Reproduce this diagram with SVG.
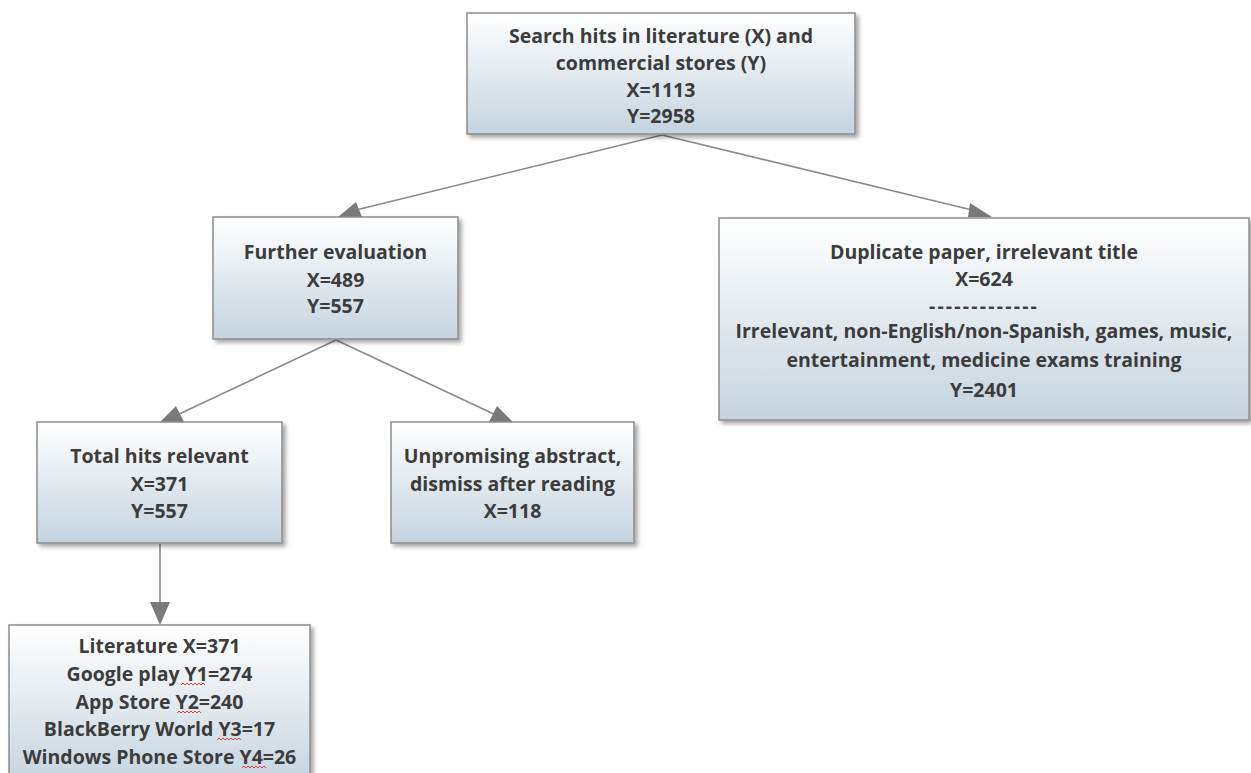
<svg xmlns="http://www.w3.org/2000/svg" width="1251" height="773" viewBox="0 0 1251 773">
<defs>
<linearGradient id="g" x1="0" y1="0" x2="0" y2="1">
<stop offset="0" stop-color="#ffffff"/>
<stop offset="1" stop-color="#c5d3de"/>
</linearGradient>
<filter id="sh" x="-5%" y="-5%" width="115%" height="120%">
<feDropShadow dx="3" dy="3" stdDeviation="2" flood-color="#000" flood-opacity="0.35"/>
</filter>
<style>
.box{fill:url(#g);stroke:#8c8c8c;stroke-width:1.5;filter:url(#sh)}
.t{font-family:"Open Sans","Noto Sans","DejaVu Sans",sans-serif;font-weight:bold;font-size:19.5px;fill:#3c3c3c;text-anchor:middle}
.c{stroke:#8a8a8a;stroke-width:1.6;fill:none}
.arr{fill:#7a7a7a}
.sq{stroke:#e04040;stroke-width:1;fill:none}
</style>
</defs>
<rect width="1251" height="773" fill="#ffffff"/>
<g id="connectors">
<line class="c" x1="662" y1="135" x2="356" y2="210"/>
<polygon class="arr" points="338,217 362,217 356,202"/>
<line class="c" x1="662" y1="135" x2="972" y2="210"/>
<polygon class="arr" points="968,217 992,217 970,203"/>
<line class="c" x1="336" y1="340" x2="175" y2="416"/>
<polygon class="arr" points="160,422 184,422 176,406"/>
<line class="c" x1="336" y1="340" x2="498" y2="416"/>
<polygon class="arr" points="489,422 513,422 497,406"/>
<line class="c" x1="160" y1="544" x2="160" y2="608"/>
<polygon class="arr" points="150,602 170,602 160,625"/>
</g>
<g id="n1">
<rect class="box" x="467" y="13" width="388" height="121"/>
<text class="t" x="661" y="43">Search hits in literature (X) and</text>
<text class="t" x="661" y="70">commercial stores (Y)</text>
<text class="t" x="661" y="97">X=1113</text>
<text class="t" x="661" y="123">Y=2958</text>
</g>
<g id="n2">
<rect class="box" x="213" y="217" width="245" height="122"/>
<text class="t" x="335.5" y="259">Further evaluation</text>
<text class="t" x="335.5" y="287">X=489</text>
<text class="t" x="335.5" y="313">Y=557</text>
</g>
<g id="n3">
<rect class="box" x="719" y="218" width="530" height="202"/>
<text class="t" x="984" y="259">Duplicate paper, irrelevant title</text>
<text class="t" x="984" y="286">X=624</text>
<text class="t" x="984" y="313" style="letter-spacing:2.2px">-------------</text>
<text class="t" x="984" y="338">Irrelevant, non-English/non-Spanish, games, music,</text>
<text class="t" x="984" y="367">entertainment, medicine exams training</text>
<text class="t" x="984" y="397">Y=2401</text>
</g>
<g id="n4">
<rect class="box" x="37" y="422" width="245" height="121"/>
<text class="t" x="159.5" y="463">Total hits relevant</text>
<text class="t" x="159.5" y="491">X=371</text>
<text class="t" x="159.5" y="518">Y=557</text>
</g>
<g id="n5">
<rect class="box" x="391" y="422" width="243" height="121"/>
<text class="t" x="512.5" y="463">Unpromising abstract,</text>
<text class="t" x="512.5" y="491">dismiss after reading</text>
<text class="t" x="512.5" y="518">X=118</text>
</g>
<g id="n6">
<rect class="box" x="9" y="625" width="301" height="160"/>
<text class="t" x="159.5" y="653">Literature X=371</text>
<text class="t" x="159.5" y="681">Google play Y1=274</text>
<text class="t" x="159.5" y="709">App Store Y2=240</text>
<text class="t" x="159.5" y="736">BlackBerry World Y3=17</text>
<text class="t" x="159.5" y="764">Windows Phone Store Y4=26</text>
<path class="sq" d="M181,685 l2,-2 l2,2 l2,-2 l2,2 l2,-2 l2,2 l2,-2 l2,2 l2,-2 l2,2 l2,-2 l2,2"/>
<path class="sq" d="M177,713 l2,-2 l2,2 l2,-2 l2,2 l2,-2 l2,2 l2,-2 l2,2 l2,-2 l2,2 l2,-2 l2,2"/>
<path class="sq" d="M217,740 l2,-2 l2,2 l2,-2 l2,2 l2,-2 l2,2 l2,-2 l2,2 l2,-2 l2,2 l2,-2 l2,2"/>
<path class="sq" d="M242,768 l2,-2 l2,2 l2,-2 l2,2 l2,-2 l2,2 l2,-2 l2,2 l2,-2 l2,2 l2,-2 l2,2"/>
</g>
</svg>
